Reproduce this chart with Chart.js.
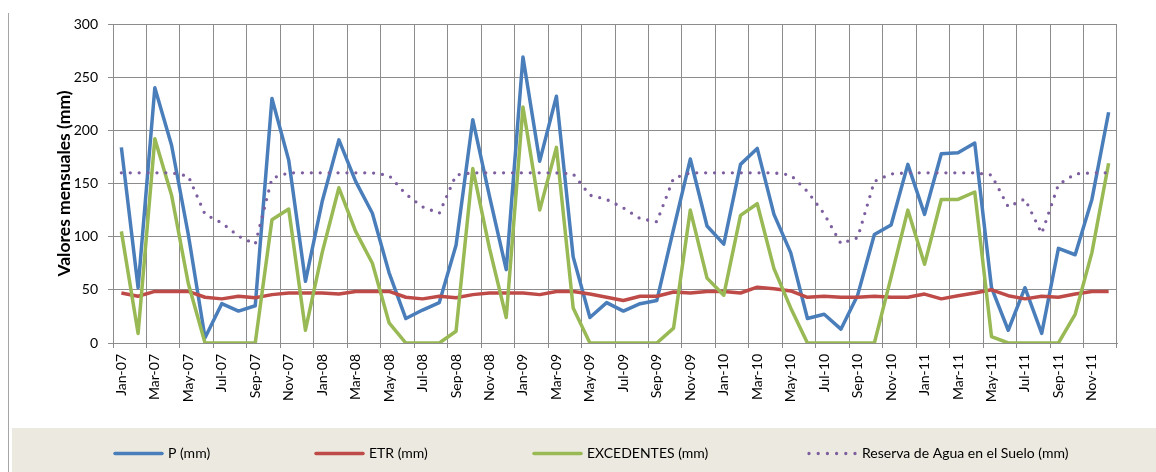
<!DOCTYPE html>
<html>
<head>
<meta charset="utf-8">
<script src="https://cdn.jsdelivr.net/npm/chart.js@4.4.1/dist/chart.umd.min.js"></script>
<style>
  html, body { margin: 0; padding: 0; background: #ffffff; }
  #wrap { width: 1156px; height: 472px; position: relative; }
</style>
</head>
<body>
<div id="wrap"><canvas id="c" width="1156" height="472"></canvas></div>
<script>
// Monthly categories, Jan-07 .. Dec-11
const categories = [
  'Jan-07','Feb-07','Mar-07','Apr-07','May-07','Jun-07','Jul-07','Aug-07','Sep-07','Oct-07','Nov-07','Dec-07',
  'Jan-08','Feb-08','Mar-08','Apr-08','May-08','Jun-08','Jul-08','Aug-08','Sep-08','Oct-08','Nov-08','Dec-08',
  'Jan-09','Feb-09','Mar-09','Apr-09','May-09','Jun-09','Jul-09','Aug-09','Sep-09','Oct-09','Nov-09','Dec-09',
  'Jan-10','Feb-10','Mar-10','Apr-10','May-10','Jun-10','Jul-10','Aug-10','Sep-10','Oct-10','Nov-10','Dec-10',
  'Jan-11','Feb-11','Mar-11','Apr-11','May-11','Jun-11','Jul-11','Aug-11','Sep-11','Oct-11','Nov-11','Dec-11'
];

// Precipitation (mm)
const precipitation = [
  184, 52, 240, 186, 102, 5, 37, 30, 35, 230, 172, 58,
  133, 191, 152, 122, 66, 23, 31, 38, 92, 210, 138, 69,
  269, 171, 232, 81, 24, 38, 30, 37, 40, 107, 173, 110,
  93, 168, 183, 121, 85, 23, 27, 13, 45, 102, 111, 168,
  121, 178, 179, 188, 52, 12, 52, 9, 89, 83, 135, 217
];

// Real evapotranspiration (mm)
const etr = [
  47, 44, 48.5, 48.5, 48.5, 43, 41.5, 44, 42.5, 45.5, 47, 47,
  47, 46, 48.5, 48.5, 48.5, 43, 41.5, 44, 42.5, 45.5, 47, 47,
  47, 45.5, 48.5, 48.5, 46, 43, 40, 44, 44, 48, 47, 48.5,
  48.5, 47, 52.5, 51, 49, 43, 44, 43, 43, 44, 43, 43,
  46, 41.5, 44.5, 47, 50, 44.5, 41.5, 44, 43, 46, 48.5, 48.5
];

// Water surplus (mm)
const excedentes = [
  105, 9, 192, 139, 56, 0, 0, 0, 0, 116, 126, 12,
  85, 146, 105, 75, 19, 0, 0, 0, 11, 164, 89, 24,
  222, 125, 184, 33, 0, 0, 0, 0, 0, 14, 125, 61,
  45, 120, 131, 70, 33, 0, 0, 0, 0, 0, 62, 125,
  74, 135, 135, 142, 6, 0, 0, 0, 0, 27, 85, 169
];

// Soil water storage (mm)
const reserva = [
  160, 160, 160, 160, 157, 121, 113, 100.5, 93, 155, 160, 160,
  160, 160, 160, 160, 157.5, 140, 128, 122, 158, 160, 160, 160,
  160, 160, 160, 159, 139, 135, 127, 117, 114, 155, 160, 160,
  160, 160, 160, 160, 158, 142.5, 121.5, 93.5, 99, 152, 159, 160,
  160, 160, 160, 160, 158, 128, 135.5, 103, 149, 159, 160, 160
];

const yTicks = { min: 0, max: 300, step: 50 };

const GRID = '#8c8c8c';
const FONT = 'Lato, "Open Sans", sans-serif';

// Vertical grid lines only every second month boundary
const everyOther = (ctx) => (ctx.index === undefined || ctx.index % 2 === 0) ? GRID : 'rgba(0,0,0,0)';

// Frame line on the left and the shaded legend band underneath the plot
const legendBand = {
  id: 'legendBand',
  beforeDraw(chart) {
    const ctx = chart.ctx;
    ctx.save();
    ctx.fillStyle = '#ffffff';
    ctx.fillRect(0, 0, chart.width, chart.height);
    ctx.strokeStyle = '#a6a6a6';
    ctx.lineWidth = 1;
    ctx.beginPath();
    ctx.moveTo(8.5, 13);
    ctx.lineTo(8.5, chart.height);
    ctx.stroke();
    ctx.restore();
  },
  afterDraw(chart) {
    const ctx = chart.ctx;
    ctx.save();
    ctx.fillStyle = '#ECEAE0';
    ctx.fillRect(12, 428, chart.width - 12, chart.height - 428);
    const starts = [113, 314, 532, 807];
    const y = 453.5;
    ctx.font = '14px ' + FONT;
    ctx.textBaseline = 'middle';
    ctx.textAlign = 'left';
    chart.data.datasets.forEach((ds, i) => {
      const x0 = starts[i];
      ctx.strokeStyle = ds.borderColor;
      ctx.lineWidth = ds.borderWidth;
      ctx.lineCap = 'round';
      ctx.setLineDash(ds.borderDash ? [0, 9.2] : []);
      ctx.beginPath();
      ctx.moveTo(x0 + 2, y);
      ctx.lineTo(ds.borderDash ? x0 + 48.5 : x0 + 49, y);
      ctx.stroke();
      ctx.setLineDash([]);
      ctx.fillStyle = '#000000';
      ctx.fillText(ds.label, x0 + 55, y);
    });
    ctx.restore();
  }
};

new Chart(document.getElementById('c'), {
  type: 'line',
  data: {
    labels: categories,
    datasets: [
      { label: 'P (mm)', data: precipitation, borderColor: '#4A7EBB', borderWidth: 3.5, order: 4 },
      { label: 'ETR (mm)', data: etr, borderColor: '#BE4B48', borderWidth: 3.5, order: 3 },
      { label: 'EXCEDENTES (mm)', data: excedentes, borderColor: '#98B954', borderWidth: 3.5, order: 2 },
      { label: 'Reserva de Agua en el Suelo (mm)', data: reserva, borderColor: '#7D5FA0', borderWidth: 3.3,
        borderDash: [0, 8.9], borderCapStyle: 'round', order: 1 }
    ]
  },
  options: {
    responsive: false,
    animation: false,
    devicePixelRatio: 1,
    layout: { padding: { left: 0, top: 24, right: 39, bottom: 0 } },
    plugins: { legend: { display: false }, tooltip: { enabled: false } },
    elements: {
      point: { radius: 0, hoverRadius: 0 },
      line: { tension: 0, borderJoinStyle: 'round', fill: false }
    },
    scales: {
      x: {
        type: 'category',
        offset: true,
        grid: { offset: true, color: everyOther, tickColor: everyOther, tickLength: 5, lineWidth: 1 },
        border: { color: GRID, width: 1 },
        ticks: {
          autoSkip: false, minRotation: 90, maxRotation: 90, padding: 6, color: '#000000',
          font: { family: FONT, size: 14 },
          callback: (v, i) => (i % 2 === 0 ? categories[i] : '')
        },
        afterFit: (s) => { s.height = 129; }
      },
      y: {
        min: yTicks.min, max: yTicks.max,
        grid: { color: GRID, tickColor: GRID, tickLength: 5, lineWidth: 1 },
        border: { color: GRID, width: 1 },
        ticks: { stepSize: yTicks.step, padding: 10, color: '#000000', font: { family: FONT, size: 14 } },
        title: {
          display: true, text: 'Valores mensuales (mm)', color: '#000000',
          font: { family: FONT, size: 17.5, weight: 'bold' },
          padding: { top: 54, bottom: 0 }
        },
        afterFit: (s) => { s.width = 113; }
      }
    }
  },
  plugins: [legendBand]
});
</script>
</body>
</html>
